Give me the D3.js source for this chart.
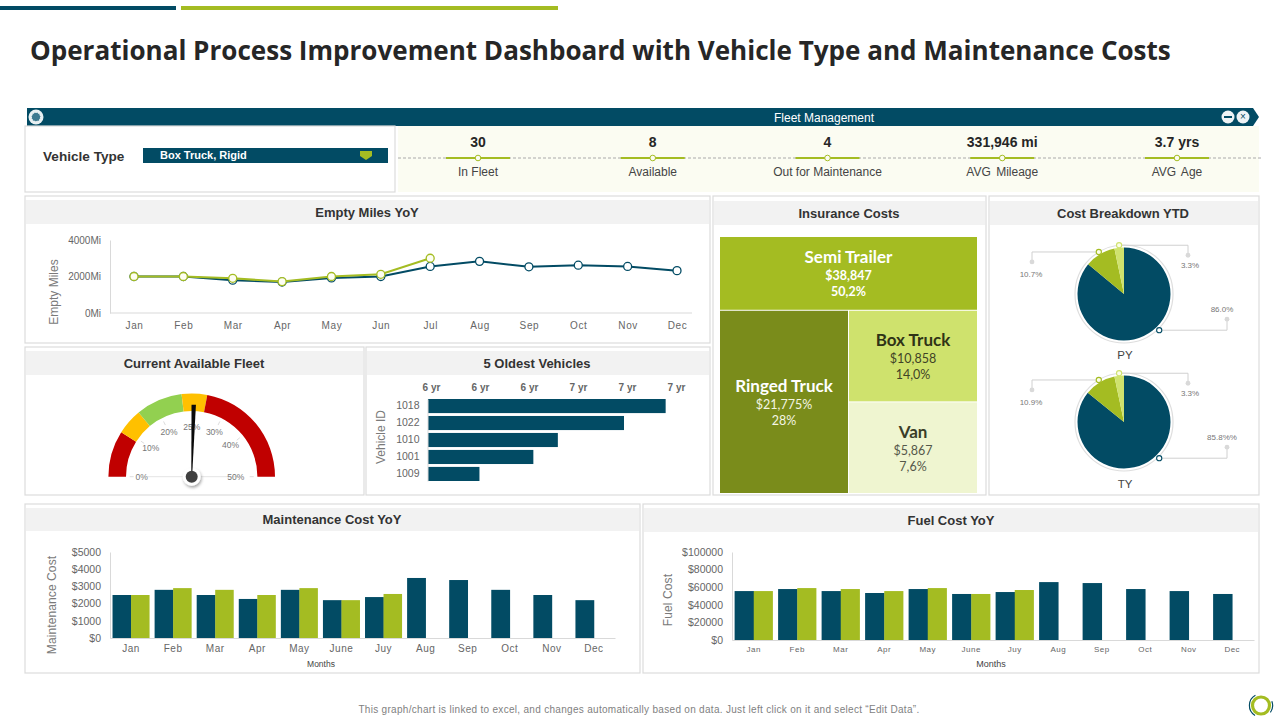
<!DOCTYPE html>
<html>
<head>
<meta charset="utf-8">
<title>Operational Process Improvement Dashboard</title>
<script src="https://d3js.org/d3.v7.min.js"></script>
<style>
  body { margin: 0; background: #fff; }
  svg { display: block; }
  text { font-family: "Liberation Sans", Arial, sans-serif; }
  .axis text { fill: #666; }
  .panel-title { font-size: 13px; font-weight: bold; fill: #333; text-anchor: middle; }
  .axis-title { fill: #7a7a7a; text-anchor: middle; }
</style>
</head>
<body>
<div id="chart"></div>
<script>
// data
const months = ["Jan","Feb","Mar","Apr","May","Jun","Jul","Aug","Sep","Oct","Nov","Dec"];
const barMonths = ["Jan","Feb","Mar","Apr","May","June","Juy","Aug","Sep","Oct","Nov","Dec"];

const milesPY = [2000,2000,1800,1700,1920,2000,2550,2830,2530,2620,2550,2320];
const milesTY = [2000,2000,1900,1720,2000,2120,3000];

const maintPY = [2500,2800,2500,2270,2800,2200,2380,3490,3370,2800,2500,2200];
const maintTY = [2500,2900,2800,2500,2900,2200,2560];

const fuelPY = [55600,57900,55600,53400,57900,52300,54500,65800,64700,57900,55600,52300];
const fuelTY = [55600,59000,57900,55600,59000,52300,56800];

const kpiValues = ["30","8","4","331,946 mi","3.7 yrs"];
const kpiLabels = ["In Fleet","Available","Out for Maintenance","AVG Mileage","AVG Age"];

const vehicleIds = ["1018","1022","1010","1001","1009"];
const vehicleAges = [6.97,6.80,6.53,6.43,6.21];
const ageTicks = [6.0,6.2,6.4,6.6,6.8,7.0];

const gaugeStops = [0,9.2,15.5,23.7,27,50];
const gaugeColors = ["#c00000","#ffc000","#92d050","#ffc000","#c00000"];
const gaugeTicks = [0,10,20,25,30,40,50];
const gaugeValue = 25.3;

// tile sizes follow the drawing, not the dollar amounts
const insuranceNames = ["Semi Trailer","Ringed Truck","Box Truck","Van"];
const insuranceAmounts = ["$38,847","$21,775%","$10,858","$5,867"];
const insuranceShares = ["50,2%","28%","14,0%","7,6%"];
const insuranceTileSizes = [18760,23300,11650,11650];

const piePY = [86.0,10.7,3.3];
const pieTY = [85.8,10.9,3.3];
const pieLabelsPY = ["86.0%","10.7%","3.3%"];
const pieLabelsTY = ["85.8%%","10.9%","3.3%"];

const navy = "#024b64", green = "#a4bc22", light = "#cfe26d";

const svg = d3.select("#chart").append("svg")
  .attr("width", 1280)
  .attr("height", 720);

// title and the two strips above it
svg.append("rect").attr("x", 0).attr("y", 6).attr("width", 176).attr("height", 4).attr("fill", navy);
svg.append("rect").attr("x", 181).attr("y", 6).attr("width", 377).attr("height", 4).attr("fill", green);
svg.append("text")
  .attr("x", 30).attr("y", 60)
  .style("font-family", "'Open Sans'")
  .style("font-size", "26.05px")
  .style("font-weight", "bold")
  .attr("fill", "#262626")
  .text("Operational Process Improvement Dashboard with Vehicle Type and Maintenance Costs");

// panel box with a grey title band
function panel(x, y, w, h, title, titleX, bandTop, bandH) {
  svg.append("rect").attr("x", x).attr("y", y).attr("width", w).attr("height", h)
    .attr("fill", "#fff").attr("stroke", "#dcdcdc").attr("stroke-width", 1.2);
  svg.append("rect").attr("x", x + 1).attr("y", bandTop).attr("width", w - 2).attr("height", bandH)
    .attr("fill", "#f2f2f2");
  svg.append("text").attr("class", "panel-title")
    .attr("x", titleX).attr("y", bandTop + bandH / 2 + 4.5)
    .text(title);
}

panel(25, 196, 685, 147, "Empty Miles YoY", 367, 200, 24);
panel(713, 196, 273, 299, "Insurance Costs", 849, 201, 24);
panel(989, 196, 270, 299, "Cost Breakdown YTD", 1123, 201, 24);
panel(25, 347, 339, 148, "Current Available Fleet", 194, 351, 24);
panel(366, 347, 344, 148, "5 Oldest Vehicles", 537, 351, 24);
panel(25, 504, 615, 169, "Maintenance Cost YoY", 332, 508, 23);
panel(643, 504, 616, 169, "Fuel Cost YoY", 951, 508, 24);

// Fleet Management header
svg.append("path")
  .attr("d", "M25,108H1253L1259,117L1253,126H25Z")
  .attr("fill", navy);
svg.append("rect").attr("x", 25).attr("y", 108).attr("width", 2).attr("height", 18).attr("fill", "#fff");
svg.append("circle").attr("cx", 36).attr("cy", 117).attr("r", 7.5).attr("fill", "#e8f0f2");
svg.append("circle").attr("cx", 36).attr("cy", 117).attr("r", 4.5).attr("fill", "#3d7a90")
  .attr("stroke", "#fff").attr("stroke-width", 1).attr("stroke-dasharray", "1.5 1");
svg.append("text").attr("x", 824).attr("y", 121.5).attr("text-anchor", "middle")
  .attr("fill", "#fff").style("font-size", "12px").text("Fleet Management");
svg.append("circle").attr("cx", 1228).attr("cy", 117).attr("r", 6.5).attr("fill", "#eef3f5");
svg.append("rect").attr("x", 1224).attr("y", 116).attr("width", 8).attr("height", 2).attr("fill", navy);
svg.append("circle").attr("cx", 1243).attr("cy", 117).attr("r", 6.5).attr("fill", "#eef3f5");
svg.append("text").attr("x", 1243).attr("y", 120).attr("text-anchor", "middle")
  .attr("fill", navy).style("font-size", "10px").text("×");

// vehicle type selector
svg.append("rect").attr("x", 25).attr("y", 126).attr("width", 370).attr("height", 66)
  .attr("fill", "#fff").attr("stroke", "#dcdcdc").attr("stroke-width", 1.2);
svg.append("text").attr("x", 43).attr("y", 161)
  .style("font-size", "13.6px").style("font-weight", "bold").attr("fill", "#333")
  .text("Vehicle Type");
svg.append("rect").attr("x", 143).attr("y", 148).attr("width", 245).attr("height", 15).attr("fill", navy);
svg.append("text").attr("x", 160).attr("y", 159)
  .style("font-size", "11px").style("font-weight", "bold").attr("fill", "#fff")
  .text("Box Truck, Rigid");
svg.append("path").attr("d", "M360,151H372V156L366,160L360,156Z").attr("fill", green);

// KPI strip
svg.append("rect").attr("x", 398).attr("y", 126).attr("width", 861).attr("height", 66).attr("fill", "#fbfcf2");
svg.append("line").attr("x1", 398).attr("x2", 1262).attr("y1", 158).attr("y2", 158)
  .attr("stroke", "#aaa").attr("stroke-dasharray", "3 2");

const kpiX = d3.scalePoint().domain(kpiLabels).range([478, 1177]);
kpiLabels.forEach(function(label, i) {
  const x = kpiX(label);
  svg.append("text").attr("x", x).attr("y", 147).attr("text-anchor", "middle")
    .style("font-size", "14px").style("font-weight", "bold").attr("fill", "#262626")
    .text(kpiValues[i]);
  svg.append("line").attr("x1", x - 32).attr("x2", x + 32).attr("y1", 158).attr("y2", 158)
    .attr("stroke", green).attr("stroke-width", 2);
  svg.append("circle").attr("cx", x).attr("cy", 158).attr("r", 2.8)
    .attr("fill", "#fbfcf2").attr("stroke", green);
  svg.append("text").attr("x", x).attr("y", 176).attr("text-anchor", "middle")
    .style("font-size", "12px").style("word-spacing", i > 2 ? "2px" : "0").attr("fill", "#444")
    .text(label);
});

// Empty Miles line chart
const lineX = d3.scalePoint().domain(months).range([134, 677]);
const lineY = d3.scaleLinear().domain([0, 4000]).range([313, 240]);

svg.append("g").attr("class", "axis")
  .attr("transform", "translate(0,313)")
  .call(d3.axisBottom(lineX).tickSize(0).tickPadding(9))
  .call(g => g.select(".domain").attr("d", "M110,0H692").attr("stroke", "#d9d9d9"))
  .call(g => g.selectAll("text").style("font-size", "10px").style("letter-spacing", "0.6px"));
svg.append("g").attr("class", "axis")
  .attr("transform", "translate(110,0)")
  .call(d3.axisLeft(lineY).tickValues([0, 2000, 4000]).tickSize(0).tickPadding(9).tickFormat(d => d + "Mi"))
  .call(g => g.select(".domain").attr("stroke", "#d9d9d9"))
  .call(g => g.selectAll("text").style("font-size", "10px"));
svg.append("text").attr("class", "axis-title")
  .attr("transform", "translate(58,292) rotate(-90)")
  .style("font-size", "12px")
  .text("Empty Miles");

function drawLine(values, color, fill) {
  const line = d3.line()
    .x((d, i) => lineX(months[i]))
    .y(d => lineY(d));
  svg.append("path").datum(values)
    .attr("d", line).attr("fill", "none").attr("stroke", color).attr("stroke-width", 2);
  svg.selectAll(null).data(values).join("circle")
    .attr("cx", (d, i) => lineX(months[i]))
    .attr("cy", d => lineY(d))
    .attr("r", 4)
    .attr("fill", fill)
    .attr("stroke", color)
    .attr("stroke-width", 1.3);
}
drawLine(milesPY, navy, "#fff");
drawLine(milesTY, green, "#fdfef2");

// Insurance treemap
const insuranceRoot = d3.hierarchy({
  children: [
    { id: 0, size: insuranceTileSizes[0] },
    { children: [
      { id: 1, size: insuranceTileSizes[1] },
      { children: [
        { id: 2, size: insuranceTileSizes[2] },
        { id: 3, size: insuranceTileSizes[3] }
      ] }
    ] }
  ]
}).sum(d => d.size || 0);

d3.treemap()
  .size([257, 256])
  .paddingInner(1)
  .tile(function(node, x0, y0, x1, y1) {
    (node.depth % 2 ? d3.treemapDice : d3.treemapSlice)(node, x0, y0, x1, y1);
  })(insuranceRoot);

const tileFill = ["#a4bc22", "#7a8c1b", "#cfe26d", "#eff5d0"];
const tileHead = ["#fff", "#fff", "#2f3316", "#3a3d28"];
const tileText = ["#fff", "#f4f6e4", "#3f4326", "#55584a"];

const tiles = svg.append("g").attr("transform", "translate(720,237)")
  .selectAll("g").data(insuranceRoot.leaves()).join("g")
  .attr("transform", d => `translate(${d.x0},${d.y0})`);
tiles.append("rect")
  .attr("width", d => d.x1 - d.x0)
  .attr("height", d => d.y1 - d.y0)
  .attr("fill", d => tileFill[d.data.id]);
tiles.each(function(d) {
  const g = d3.select(this);
  const cx = (d.x1 - d.x0) / 2;
  const cy = (d.y1 - d.y0) / 2;
  const bold = d.data.id == 0 ? "bold" : "normal";
  g.append("text").attr("x", cx).attr("y", cy - 10).attr("text-anchor", "middle")
    .style("font-family", "Lato").style("font-size", "17px").style("font-weight", "bold")
    .attr("fill", tileHead[d.data.id]).text(insuranceNames[d.data.id]);
  g.append("text").attr("x", cx).attr("y", cy + 7).attr("text-anchor", "middle")
    .style("font-family", "Lato").style("font-size", "12.5px").style("font-weight", bold)
    .attr("fill", tileText[d.data.id]).text(insuranceAmounts[d.data.id]);
  g.append("text").attr("x", cx).attr("y", cy + 23).attr("text-anchor", "middle")
    .style("font-family", "Lato").style("font-size", "12.5px").style("font-weight", bold)
    .attr("fill", tileText[d.data.id]).text(insuranceShares[d.data.id]);
});

// Cost breakdown pies
const pieColors = [navy, green, light];
function drawPie(cx, cy, values, labels, name, labelY) {
  const g = svg.append("g").attr("transform", `translate(${cx},${cy})`);
  const arcs = d3.pie().sort(null)(values);
  const arc = d3.arc().innerRadius(0).outerRadius(46.5);
  g.append("circle").attr("r", 49).attr("fill", "#fff").attr("stroke", "#dedede").attr("stroke-width", 1.2);
  g.selectAll("path").data(arcs).join("path")
    .attr("d", arc)
    .attr("fill", (d, i) => pieColors[i]);

  // callouts: [angle on ring, ring radius, elbow x, dot offset, label x, label offset]
  const callouts = [
    [2.37, 50.5, 103, -11, 98, -7],
    [-0.54, 49, -92, 10, -93, 15],
    [-0.10, 49, 64, 10, 66, 13]
  ];
  callouts.forEach(function(c, i) {
    const px = c[1] * Math.sin(c[0]), py = -c[1] * Math.cos(c[0]);
    const dotY = py + c[3];
    g.append("path")
      .attr("d", `M${px},${py}H${c[2]}V${dotY}`)
      .attr("fill", "none").attr("stroke", "#d0d0d0");
    g.append("circle").attr("cx", c[2]).attr("cy", dotY).attr("r", 2.4).attr("fill", "#d9d9d9");
    g.append("circle").attr("cx", px).attr("cy", py).attr("r", 2.6)
      .attr("fill", i == 0 ? "#fff" : "#fbfde8").attr("stroke", pieColors[i]).attr("stroke-width", 1.1);
    g.append("text")
      .attr("x", c[4])
      .attr("y", dotY + c[5])
      .attr("text-anchor", "middle")
      .style("font-size", "8px").attr("fill", "#777")
      .text(labels[i]);
  });

  svg.append("text").attr("x", cx + 1).attr("y", labelY).attr("text-anchor", "middle")
    .style("font-size", "11.5px").attr("fill", "#444").text(name);
}
drawPie(1124, 294, piePY, pieLabelsPY, "PY", 359);
drawPie(1124, 422, pieTY, pieLabelsTY, "TY", 488);

// Gauge, the dial is not evenly spaced in the picture
const gaugeAngle = d3.scaleLinear()
  .domain(gaugeTicks)
  .range([-90, -55, -27, 0, 27, 51, 90].map(d => d * Math.PI / 180));
const gauge = svg.append("g").attr("transform", "translate(191.7,476.7)");
const gaugeArc = d3.arc().innerRadius(65.7).outerRadius(83.3);

gauge.append("line").attr("x1", -45).attr("x2", 48).attr("stroke", "#e4e4e4");
gauge.selectAll("path.band").data(gaugeColors).join("path")
  .attr("class", "band")
  .attr("d", (d, i) => gaugeArc({ startAngle: gaugeAngle(gaugeStops[i]), endAngle: gaugeAngle(gaugeStops[i + 1]) }))
  .attr("fill", d => d);

gauge.selectAll("text").data(gaugeTicks).join("text")
  .attr("x", d => 50 * Math.sin(gaugeAngle(d)) - (d == 50 ? 6 : 0))
  .attr("y", d => -50 * Math.cos(gaugeAngle(d)) + 3)
  .attr("text-anchor", "middle")
  .style("font-size", "8.5px")
  .attr("fill", "#777")
  .text(d => d + "%");
gauge.selectAll("line.tick").data(gaugeTicks.filter(d => d != 25)).join("line")
  .attr("class", "tick")
  .attr("x1", d => 58 * Math.sin(gaugeAngle(d)))
  .attr("y1", d => -58 * Math.cos(gaugeAngle(d)))
  .attr("x2", d => 62 * Math.sin(gaugeAngle(d)))
  .attr("y2", d => -62 * Math.cos(gaugeAngle(d)))
  .attr("stroke", "#ddd");

const defs = svg.append("defs");
const shadow = defs.append("filter").attr("id", "hubShadow")
  .attr("x", "-50%").attr("y", "-50%").attr("width", "200%").attr("height", "200%");
shadow.append("feDropShadow").attr("dx", 1).attr("dy", 2).attr("stdDeviation", 1.5).attr("flood-opacity", 0.35);

gauge.append("circle").attr("r", 9).attr("fill", "#fff").attr("filter", "url(#hubShadow)");
gauge.append("path")
  .attr("d", "M-0.4,0L-2.2,-72H2.2L0.4,0Z")
  .attr("fill", "#0a0a0a")
  .attr("transform", `rotate(${gaugeAngle(gaugeValue) * 180 / Math.PI})`);
gauge.append("circle").attr("r", 6).attr("fill", "#404040");

// 5 oldest vehicles
const ageX = d3.scaleLinear().domain([6, 7]).range([428, 673]);
const idY = d3.scaleBand().domain(vehicleIds).range([399, 481]).paddingInner(0.17).paddingOuter(0);

svg.selectAll(null).data(vehicleIds).join("rect")
  .attr("x", ageX(6))
  .attr("y", d => idY(d))
  .attr("width", (d, i) => ageX(vehicleAges[i]) - ageX(6))
  .attr("height", idY.bandwidth())
  .attr("fill", navy);

svg.append("g").attr("class", "axis")
  .attr("transform", "translate(3,393)")
  .call(d3.axisTop(ageX).tickValues(ageTicks).tickSize(0).tickPadding(2).tickFormat(d => d3.format(".0f")(d) + " yr"))
  .call(g => g.select(".domain").remove())
  .call(g => g.selectAll("text").style("font-size", "10px").style("font-weight", "bold").attr("fill", "#555"));
svg.append("g").attr("class", "axis")
  .attr("transform", "translate(427.5,0)")
  .call(d3.axisLeft(idY).tickSize(0).tickPadding(8))
  .call(g => g.select(".domain").attr("stroke", "#d9d9d9"))
  .call(g => g.selectAll("text").style("font-size", "10.5px").attr("fill", "#555"));
svg.append("text").attr("class", "axis-title")
  .attr("transform", "translate(385,437) rotate(-90)")
  .style("font-size", "12px")
  .text("Vehicle ID");

// grouped bars for the two bottom panels
function drawBars(opt) {
  const x = d3.scaleBand().domain(barMonths).range(opt.xRange).paddingInner(0.12).paddingOuter(0.06);
  const inner = d3.scaleBand().domain(["PY", "TY"]).range([0, x.bandwidth()]);
  const y = d3.scaleLinear().domain([0, opt.max]).range(opt.yRange);

  svg.selectAll(null).data(opt.py).join("rect")
    .attr("x", (d, i) => x(barMonths[i]) + inner("PY"))
    .attr("y", d => y(d))
    .attr("width", inner.bandwidth() + 0.3)
    .attr("height", d => y(0) - y(d))
    .attr("fill", navy);
  svg.selectAll(null).data(opt.ty).join("rect")
    .attr("x", (d, i) => x(barMonths[i]) + inner("TY"))
    .attr("y", d => y(d))
    .attr("width", inner.bandwidth())
    .attr("height", d => y(0) - y(d))
    .attr("fill", green);

  svg.append("g").attr("class", "axis")
    .attr("transform", `translate(0,${opt.yRange[0]})`)
    .call(d3.axisBottom(x).tickSize(0).tickPadding(opt.monthPad))
    .call(g => g.select(".domain").attr("stroke", "#d9d9d9"))
    .call(g => g.selectAll("text").style("font-size", opt.monthSize).style("letter-spacing", "0.5px"));
  svg.append("g").attr("class", "axis")
    .attr("transform", `translate(${opt.xRange[0]},0)`)
    .call(d3.axisLeft(y).ticks(5).tickSize(0).tickPadding(9).tickFormat(d => "$" + d))
    .call(g => g.select(".domain").attr("stroke", "#d9d9d9"))
    .call(g => g.selectAll("text").style("font-size", "10.5px"));

  svg.append("text").attr("class", "axis-title")
    .attr("transform", `translate(${opt.titleX},${opt.titleY}) rotate(-90)`)
    .style("font-size", "12px")
    .style("letter-spacing", "0.1px")
    .text(opt.title);
  svg.append("text").attr("x", opt.monthsX).attr("y", 667).attr("text-anchor", "middle")
    .style("font-size", opt.monthsSize).attr("fill", "#444").text("Months");
}

drawBars({
  xRange: [110, 615], yRange: [638, 552], max: 5000,
  py: maintPY, ty: maintTY,
  title: "Maintenance Cost", titleX: 56, titleY: 605,
  monthPad: 7, monthSize: "10px", monthsX: 321, monthsSize: "8.5px"
});
drawBars({
  xRange: [732, 1254], yRange: [640, 552], max: 100000,
  py: fuelPY, ty: fuelTY,
  title: "Fuel Cost", titleX: 672, titleY: 600,
  monthPad: 6, monthSize: "8px", monthsX: 991, monthsSize: "9px"
});

// footer and corner mark
svg.append("text").attr("x", 639).attr("y", 713).attr("text-anchor", "middle")
  .style("font-size", "10px").style("letter-spacing", "0.3px").attr("fill", "#7f7f7f")
  .text("This graph/chart is linked to excel, and changes automatically based on data. Just left click on it and select “Edit Data”.");
svg.append("circle").attr("cx", 1261).attr("cy", 705.5).attr("r", 8.5)
  .attr("fill", "none").attr("stroke", green).attr("stroke-width", 3.2);
const logoArc = d3.arc().innerRadius(11).outerRadius(12.2);
svg.append("path")
  .attr("d", logoArc({ startAngle: -2.6, endAngle: -0.5 }))
  .attr("transform", "translate(1261,705.5)")
  .attr("fill", navy);
svg.append("path")
  .attr("d", logoArc({ startAngle: 1.2, endAngle: 2.2 }))
  .attr("transform", "translate(1261,705.5)")
  .attr("fill", navy);
</script>
</body>
</html>
